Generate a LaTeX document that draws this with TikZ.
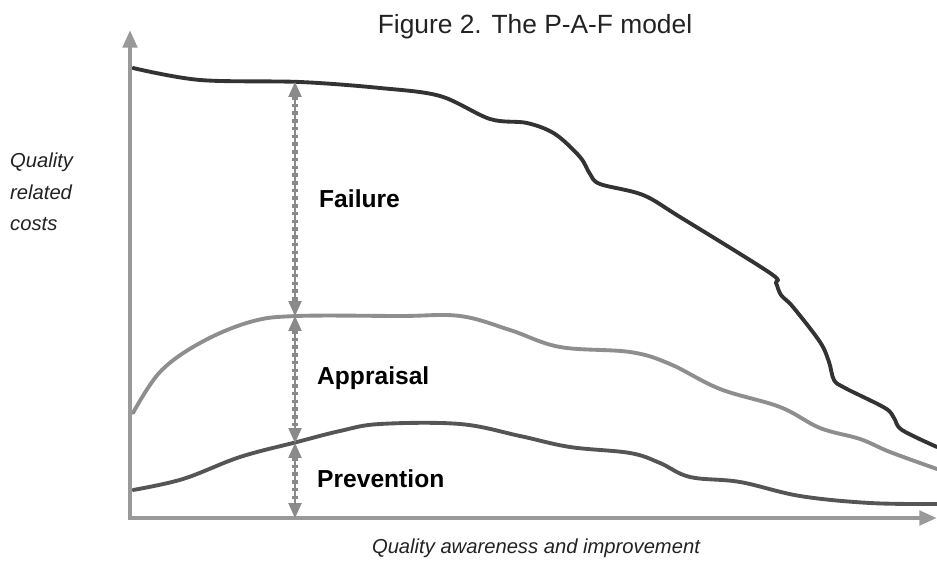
\documentclass[tikz,border=0pt]{standalone}
\usepackage{fontspec}
\setmainfont{Liberation Sans}
\usetikzlibrary{arrows.meta}
\definecolor{axisgray}{HTML}{999999}
\definecolor{failcol}{HTML}{333333}
\definecolor{appcol}{HTML}{8E8E8E}
\definecolor{prevcol}{HTML}{555555}
\definecolor{spangray}{HTML}{8A8A8A}
\definecolor{textgray}{HTML}{222222}
\begin{document}
\begin{tikzpicture}[x=0.02cm,y=-0.02cm,
	axis/.style={draw=axisgray,line width=2.8pt,line cap=rect,-{Triangle[length=10pt,width=8pt]}},
	curve/.style={line width=2.2pt,line cap=round,line join=round},
	span/.style={draw=spangray,line width=3pt,dash pattern=on 2pt off 2.4pt,
		preaction={draw=spangray,line width=1pt,solid},
		{Triangle[length=8.5pt,width=7pt]}-{Triangle[length=8.5pt,width=7pt]}},
	cost/.style={anchor=west,font=\fontsize{14}{16}\selectfont\bfseries},
	caption/.style={text=textgray,font=\fontsize{11.5}{18}\selectfont\itshape},
	]
			\useasboundingbox (0,0) rectangle (937,564);
			\coordinate (origin) at (130,518);
			\coordinate (ytip) at (130,30);
			\coordinate (xtip) at (937,518);
			\coordinate (failtop) at (295,82);
			\coordinate (apptop) at (295,316);
			\coordinate (prevtop) at (295,443);
			\coordinate (base) at (295,518);
			\draw[curve,failcol] plot[smooth,tension=0.55] coordinates {
				(133,68) (200,80) (300,82) (380,88) (440,96) (490,119) (527,123) (555,134)
				(580,157) (590,174) (600,184) (643,195) (680,217) (770,273) (776,283)
				(781,295) (793,307) (820,342) (829,362) (834,380) (845,388) (885,408)
				(894,418) (902,430) (937,447)};
			\draw[curve,appcol] plot[smooth,tension=0.6] coordinates {
				(133,413) (160,372) (200,343) (250,322) (297,316) (400,316) (460,316)
				(510,330) (560,347) (630,352) (670,364) (720,389) (780,407) (820,428)
				(860,439) (890,452) (937,469)};
			\draw[curve,prevcol] plot[smooth,tension=0.6] coordinates {
				(133,490) (183,479) (240,457) (297,442) (340,431) (380,424) (460,424)
				(520,436) (570,447) (630,453) (660,463) (690,477) (740,482) (800,496)
				(870,503) (937,504)};
			\draw[axis] (origin) -- (ytip);
			\draw[axis] (origin) -- (xtip);
			\draw[span] (failtop) -- (apptop);
			\draw[span] (apptop) -- (prevtop);
			\draw[span] (prevtop) -- (base);
			\node[cost] (failure) at (313,199) {Failure};
			\node[cost] (appraisal) at (311,378) {Appraisal};
			\node[cost] (prevention) at (311,479) {Prevention};
			\node[text=textgray,font=\fontsize{15}{18}\selectfont] (title) at (535,27) {Figure 2. The P-A-F model};
			\node[caption,anchor=west,align=left] (ylabel) at (4,192) {Quality\\related\\costs};
			\node[caption] (xlabel) at (536,548) {Quality awareness and improvement};
		\end{tikzpicture}
\end{document}
